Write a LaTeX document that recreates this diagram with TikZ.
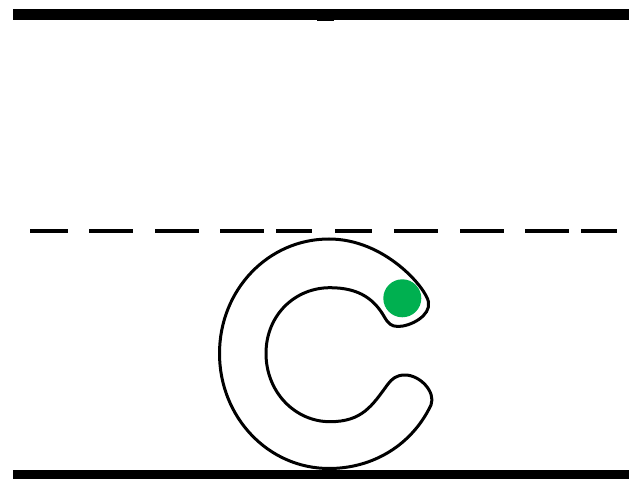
\documentclass[tikz,border=0pt]{standalone}
\tikzset{
  wall/.style={fill=black},
  dashline/.style={line width=0.07cm},
  ring/.style={draw, line width=0.06cm, line join=round},
  ball/.style={circle, fill=ballgreen, minimum size=0.76cm, inner sep=0pt}
}
\definecolor{ballgreen}{HTML}{00B050}
\begin{document}
\begin{tikzpicture}[x=0.02cm, y=-0.02cm]
\useasboundingbox (0,0) rectangle (629,479);

% walls
\fill[wall] (12.5,9) rectangle (629,20.5);
\fill[wall] (317,20) rectangle (334,21.5);
\fill[wall] (12.5,470) rectangle (629,479);

% dashed midline
\foreach \xa/\xb in {30/67.5, 89/133, 155/199, 220/264, 276/312, 335/372, 394/438, 460/504, 525/569, 581/617}
  \draw[dashline] (\xa,231) -- (\xb,231);

% c-shaped body
\draw[ring] (329,239) .. controls (268,239) and (219.5,290) .. (219.5,353.5)
  .. controls (219.5,417) and (268,468.5) .. (329,468.5)
  .. controls (373,468.5) and (412,445) .. (431,405)
  .. controls (436,392) and (420,375) .. (405,375)
  .. controls (396,375) and (392,379) .. (388,384)
  .. controls (372,406) and (362,421.7) .. (330,421.7)
  .. controls (295,421.7) and (266,392) .. (266,353.5)
  .. controls (266,315) and (295,287.7) .. (330,287.7)
  .. controls (360,287.7) and (375,300) .. (385,318)
  .. controls (388,323) and (391,326.5) .. (398,326.5)
  .. controls (410,326.5) and (431,316) .. (428.5,302)
  .. controls (426,288) and (385,239) .. cycle;

\node[ball] (ball) at (402.3,298.3) {};
\end{tikzpicture}
\end{document}
